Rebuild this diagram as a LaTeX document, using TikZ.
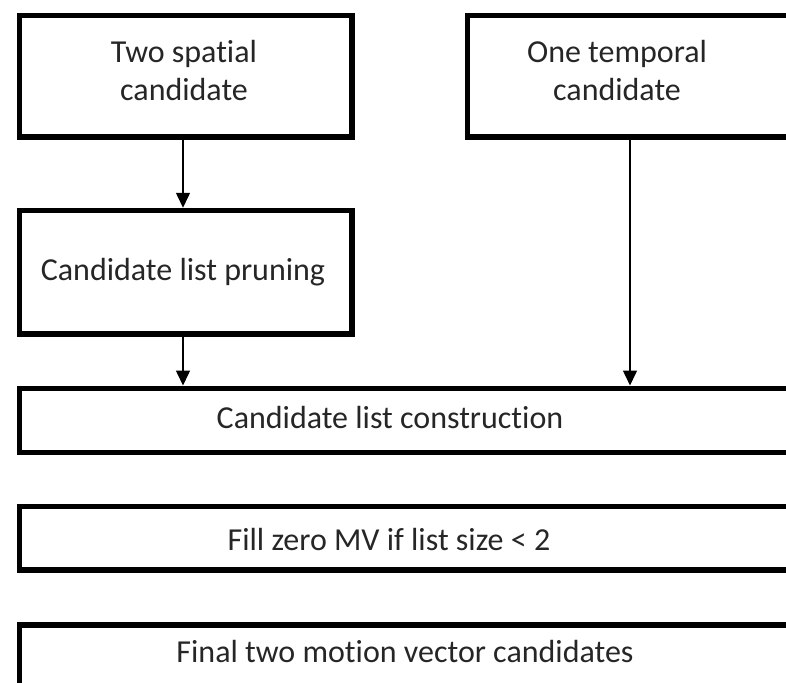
\documentclass[tikz,border=0pt]{standalone}
\usepackage{fontspec}
\setmainfont[Ligatures=NoCommon]{Carlito}
\usetikzlibrary{arrows.meta}
\tikzset{
  box/.style={draw=black, line width=5.5pt, rectangle, inner sep=0pt, anchor=north west},
  lbl/.style={text=black!85, font=\fontsize{32}{37}\selectfont, align=center, inner sep=0pt},
  arr/.style={draw=black, line width=1.5pt, -{Triangle[length=15pt,width=14pt]}}
}
\begin{document}
\begin{tikzpicture}[x=1pt,y=-1pt]
\useasboundingbox (0,0) rectangle (786,682);
\clip (0,0) rectangle (786,682);
\fill[white] (0,0) rectangle (786,682);

% boxes (corner at the centre of the stroke)
\node[box, minimum width=332.5pt, minimum height=121.5pt] (spatial) at (16.75,12.75) {};
\node[box, minimum width=360pt, minimum height=121.5pt] (temporal) at (464.75,12.75) {};
\node[box, minimum width=332.5pt, minimum height=123.25pt] (prune) at (16.75,207.75) {};
\node[box, minimum width=800pt, minimum height=64pt] (constr) at (16.75,385.5) {};
\node[box, minimum width=800pt, minimum height=63.25pt] (fill) at (16.75,503.75) {};
\node[box, minimum width=800pt, minimum height=100pt] (final) at (16.75,622) {};

% texts (base anchor = baseline of the last line)
\node[lbl, anchor=base] (tspatial) at (184,100) {Two spatial\\candidate};
\node[lbl, anchor=base] (ttemporal) at (617,100) {One temporal\\candidate};
\node[lbl, anchor=base] (tprune) at (183,280) {Candidate list pruning};
\node[lbl, anchor=base] (tconstr) at (390,428) {Candidate list construction};
\node[lbl, anchor=base] (tfill) at (389,550) {Fill zero MV if list size < 2};
\node[lbl, anchor=base] (tfinal) at (405,662) {Final two motion vector candidates};

% connectors
\coordinate (lx) at (183,0);
\coordinate (rx) at (630,0);
\draw[arr] (spatial.south -| lx) -- (prune.north -| lx);
\draw[arr] (prune.south -| lx) -- (constr.north -| lx);
\draw[arr] (temporal.south -| rx) -- (constr.north -| rx);
\end{tikzpicture}
\end{document}
